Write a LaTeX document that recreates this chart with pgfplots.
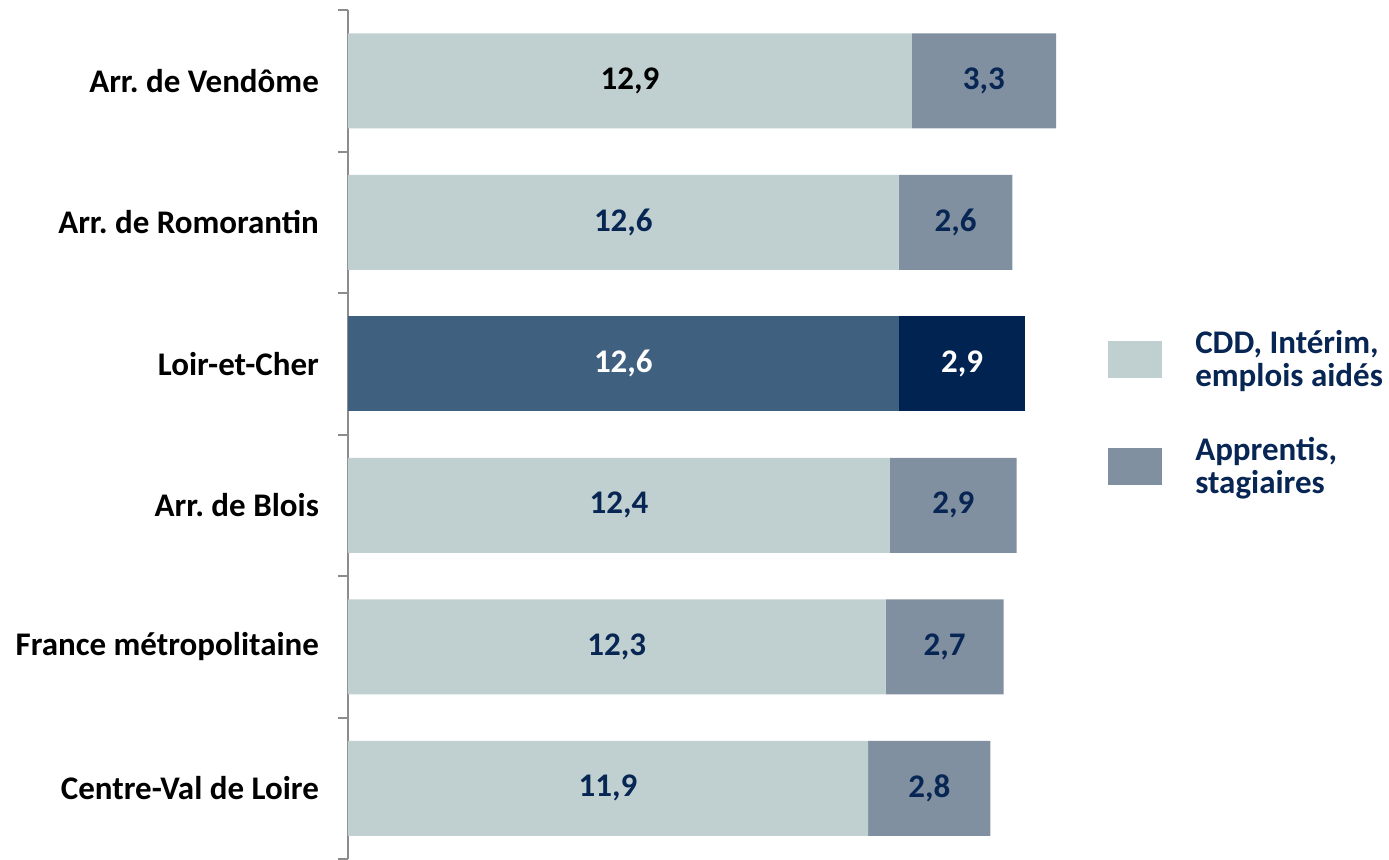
\documentclass[border=0pt]{standalone}
\usepackage{pgfplots}
\pgfplotsset{compat=1.18}
\usepackage{fontspec}
\setmainfont{Carlito}
\definecolor{cddc}{RGB}{192,208,208}
\definecolor{appc}{RGB}{128,144,160}
\definecolor{lccdd}{RGB}{64,96,128}
\definecolor{lcapp}{RGB}{0,35,82}
\definecolor{navy}{RGB}{8,38,84}
\definecolor{axgray}{RGB}{140,140,140}
\frenchspacing
\begin{document}
\begin{tikzpicture}
\path[use as bounding box] (-174pt,0pt) rectangle (520.5pt,429.5pt);
\pgfplotsset{common/.style={scale only axis, width=371.5pt, height=424.5pt,
  xmin=0, xmax=17, ymin=-0.5, ymax=5.5, at={(0,0)}, anchor=south west}}
\begin{axis}[common, xbar stacked, bar width=47.5pt,
  axis x line=none, axis y line*=left,
  axis line style={axgray, line width=1pt},
  xtick=\empty,
  ytick={0,...,5},
  yticklabels={Centre-Val de Loire, France métropolitaine, Arr. de Blois, Loir-et-Cher, Arr. de Romorantin, Arr. de Vendôme},
  major tick length=0pt,
  minor ytick={-0.5,0.5,...,5.5}, minor tick length=5pt, tick align=outside,
  minor tick style={axgray, line width=1pt},
  yticklabel style={font=\bfseries\fontsize{16.5}{19}\selectfont, xshift=-11pt},
  legend style={draw=none, fill=none, at={(1.0227,0.628)}, anchor=north west,
    font=\bfseries\fontsize{16.5}{16.5}\selectfont, text=navy,
    cells={align=left}, row sep=19.75pt, column sep=14.5pt, inner sep=0pt},
  legend cell align=left,
  legend image code/.code={\path[#1,draw=none] (0pt,-9.25pt) rectangle (27pt,9.25pt);},
]
\addplot[fill=cddc, draw=none] coordinates {(11.9,0) (12.3,1) (12.4,2) (0,3) (12.6,4) (12.9,5)};
\addlegendentry{CDD, Intérim,\\emplois aidés}
\addplot[fill=lccdd, draw=none, forget plot] coordinates {(0,0) (0,1) (0,2) (12.6,3) (0,4) (0,5)};
\addplot[fill=appc, draw=none] coordinates {(2.8,0) (2.7,1) (2.9,2) (0,3) (2.6,4) (3.3,5)};
\addlegendentry{Apprentis,\\stagiaires}
\addplot[fill=lcapp, draw=none, forget plot] coordinates {(0,0) (0,1) (0,2) (2.9,3) (0,4) (0,5)};
\end{axis}
\begin{axis}[common, hide axis,
  every node near coord/.append style={anchor=center, font=\bfseries\fontsize{16.5}{19}\selectfont}]
\addplot[draw=none, nodes near coords, point meta=explicit symbolic,
  every node near coord/.append style={text=navy}] table[meta=lab] {
x y lab
5.95 0 11,9
13.3 0 2,8
6.15 1 12,3
13.65 1 2,7
6.2 2 12,4
13.85 2 2,9
6.3 4 12,6
13.9 4 2,6
14.55 5 3,3
};
\addplot[draw=none, nodes near coords, point meta=explicit symbolic,
  every node near coord/.append style={text=white}] table[meta=lab] {
x y lab
6.3 3 12,6
14.05 3 2,9
};
\addplot[draw=none, nodes near coords, point meta=explicit symbolic,
  every node near coord/.append style={text=black}] table[meta=lab] {
x y lab
6.45 5 12,9
};
\end{axis}
\end{tikzpicture}
\end{document}
